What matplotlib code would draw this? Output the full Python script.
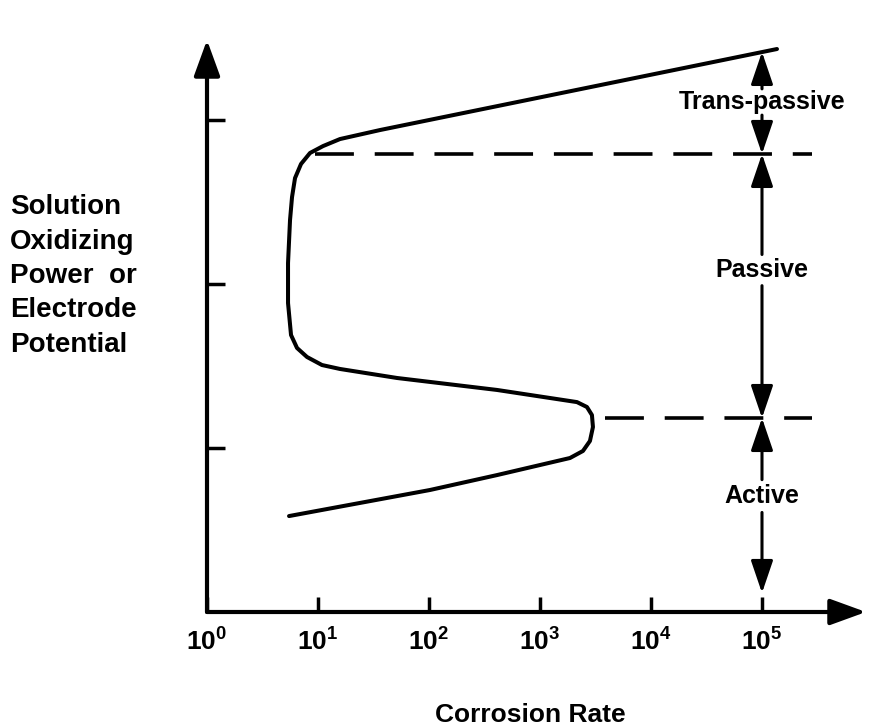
import numpy as np
import matplotlib.pyplot as plt
from matplotlib.ticker import FixedLocator, NullLocator

plt.rcParams['font.family'] = 'Liberation Sans'
plt.rcParams['font.weight'] = 'bold'
plt.rcParams['mathtext.fontset'] = 'custom'
plt.rcParams['mathtext.rm'] = 'Liberation Sans:bold'
plt.rcParams['mathtext.bf'] = 'Liberation Sans:bold'
plt.rcParams['lines.scale_dashes'] = False

# polarization curve: log10(corrosion rate) vs. oxidizing power (arbitrary units)
log_rate = np.array([0.739, 2.009, 2.613, 3.270, 3.387, 3.450, 3.477, 3.468, 3.423,
                     3.333, 2.613, 1.712, 1.198, 1.036, 0.901, 0.811, 0.757, 0.730,
                     0.730, 0.748, 0.766, 0.793, 0.847, 0.928, 1.045, 1.198, 1.559,
                     5.135])
potential = np.array([0.585, 0.744, 0.835, 0.939, 0.982, 1.043, 1.128, 1.201, 1.250,
                      1.280, 1.354, 1.427, 1.482, 1.506, 1.555, 1.610, 1.689, 1.884,
                      2.128, 2.390, 2.530, 2.646, 2.732, 2.799, 2.841, 2.884, 2.939,
                      3.433])

# region boundaries (passivation / transpassive potentials)
boundaries = [1.183, 2.793]
boundary_start = [3.59, 0.97]
boundary_end = 5.45

# regions annotated along the 10^5 line
region_names = ['Active', 'Passive', 'Trans-passive']
region_low = [0.116, 1.183, 2.793]
region_high = [1.183, 2.793, 3.415]
region_text_y = [0.707, 2.085, 3.110]
region_gap = [0.10, 0.095, 0.08]
region_x = 1e5

decades = [0, 1, 2, 3, 4, 5]
tick_labels = [r'$\mathregular{10^{%d}}$' % d for d in decades]

fig = plt.figure(figsize=(8.7, 7.27), dpi=100)
ax = fig.add_axes([207 / 870, 115 / 727, 659 / 870, 572 / 727])
ax.set_xscale('log')
ax.set_xlim(1, 10 ** 5.937)
ax.set_ylim(0, 3.488)

for s in ax.spines.values():
    s.set_visible(False)

# axes drawn as arrows
arrow_kw = dict(arrowstyle='-|>,head_length=0.55,head_width=0.2', color='k',
                lw=3, mutation_scale=40, shrinkA=0, shrinkB=0)
ax.annotate('', xy=(1.0, 0), xytext=(0, 0), xycoords='axes fraction',
            arrowprops=arrow_kw, annotation_clip=False)
ax.annotate('', xy=(0, 1.0), xytext=(0, 0), xycoords='axes fraction',
            arrowprops=arrow_kw, annotation_clip=False)

ax.xaxis.set_major_locator(FixedLocator([10.0 ** d for d in decades]))
ax.xaxis.set_minor_locator(NullLocator())
ax.set_xticklabels(tick_labels)
ax.set_yticks([1, 2, 3])
ax.set_yticklabels([])
ax.tick_params(axis='x', direction='in', length=11, width=2.5, pad=12, labelsize=19)
ax.tick_params(axis='y', direction='in', length=13, width=2.5)

ax.plot(10 ** log_rate, potential, color='k', lw=2.9, solid_joinstyle='round',
        solid_capstyle='round', clip_on=False)

for yb, x0 in zip(boundaries, boundary_start):
    ax.plot([10 ** x0, 10 ** boundary_end], [yb, yb], color='k', lw=2.6,
            linestyle=(0, (28, 15)))

head_kw = dict(arrowstyle='-|>,head_length=0.5,head_width=0.17', color='k',
               lw=2.2, mutation_scale=40, shrinkA=0, shrinkB=0)
for name, lo, hi, ty, g in zip(region_names, region_low, region_high,
                               region_text_y, region_gap):
    ax.text(region_x, ty, name, ha='center', va='center', fontsize=18)
    ax.annotate('', xy=(region_x, hi), xytext=(region_x, ty + g), arrowprops=head_kw)
    ax.annotate('', xy=(region_x, lo), xytext=(region_x, ty - g), arrowprops=head_kw)

fig.text(530 / 870, 1 - 715 / 727, 'Corrosion Rate', ha='center', va='center',
         fontsize=19)
fig.text(10 / 870, 1 - 276 / 727,
         'Solution\nOxidizing\nPower  or\nElectrode\nPotential',
         ha='left', va='center', fontsize=20, linespacing=1.42)

fig.savefig('out.png', dpi=100)
